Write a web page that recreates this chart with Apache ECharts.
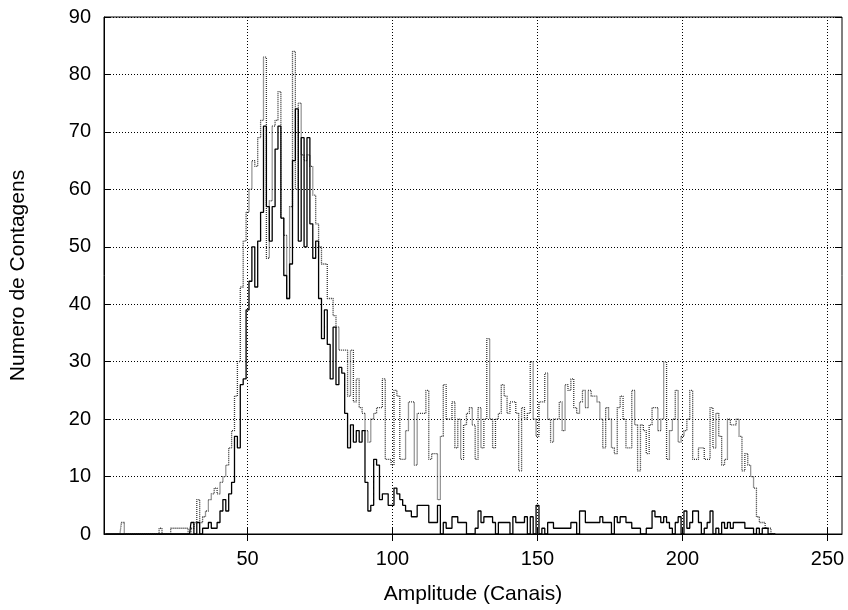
<!DOCTYPE html>
<html>
<head>
<meta charset="utf-8">
<title>Espectro de Amplitude</title>
<script src="https://cdn.jsdelivr.net/npm/echarts@6/dist/echarts.min.js"></script>
<style>
  html, body { margin: 0; padding: 0; background: #ffffff; }
  #chart { width: 848px; height: 610px; }
</style>
</head>
<body>
<div id="chart"></div>
<script>
// Canal do primeiro valor de cada espectro
const firstChannel = 1;

// Contagens por canal - espectro em linha cheia
const solidCounts = [
  0, 0, 0, 0, 0, 0, 0, 0, 0, 0,
  0, 0, 0, 0, 0, 0, 0, 0, 0, 0,
  0, 0, 0, 0, 0, 0, 0, 0, 0, 0,
  2, 0, 2, 0, 1, 1, 2, 1, 1, 2,
  4, 6, 4, 7, 9, 17, 15, 26, 27, 39,
  44, 50, 43, 51, 56, 71, 57, 51, 57, 67,
  71, 55, 45, 41, 47, 65, 74, 51, 69, 50,
  69, 54, 48, 51, 41, 34, 39, 33, 27, 36,
  26, 29, 28, 21, 15, 19, 16, 18, 16, 18,
  9, 4, 5, 13, 12, 6, 7, 7, 5, 5,
  8, 7, 6, 5, 4, 4, 3, 3, 5, 5,
  5, 5, 2, 2, 2, 5, 0, 2, 1, 1,
  3, 3, 2, 2, 2, 0, 0, 0, 1, 4,
  2, 3, 3, 3, 2, 0, 2, 2, 2, 2,
  0, 3, 2, 2, 2, 3, 0, 3, 0, 5,
  0, 1, 0, 2, 2, 1, 1, 1, 1, 1,
  1, 2, 2, 0, 4, 4, 2, 2, 2, 2,
  2, 3, 2, 2, 2, 0, 3, 2, 3, 3,
  2, 2, 1, 1, 1, 0, 0, 1, 1, 4,
  3, 3, 2, 3, 2, 1, 0, 2, 3, 0,
  4, 1, 2, 4, 4, 2, 0, 1, 2, 4,
  0, 1, 0, 2, 1, 2, 1, 2, 2, 2,
  2, 1, 1, 1, 0, 1, 0, 1, 1, 0,
  0, 0
];

// Contagens por canal - espectro em linha pontilhada
const dottedCounts = [
  0, 0, 0, 0, 0, 0, 2, 0, 0, 0,
  0, 0, 0, 0, 0, 0, 0, 0, 0, 1,
  0, 0, 0, 1, 1, 1, 1, 1, 1, 0,
  1, 2, 6, 2, 3, 4, 6, 7, 8, 7,
  9, 10, 12, 15, 18, 24, 30, 43, 51, 56,
  60, 65, 64, 69, 72, 83, 48, 58, 71, 72,
  77, 55, 52, 41, 57, 84, 60, 75, 66, 65,
  66, 64, 59, 54, 50, 47, 47, 41, 41, 38,
  36, 32, 32, 32, 24, 32, 23, 27, 22, 21,
  18, 16, 20, 21, 22, 22, 27, 13, 13, 12,
  25, 24, 13, 13, 18, 23, 23, 12, 21, 21,
  21, 25, 13, 14, 14, 6, 17, 26, 20, 20,
  23, 15, 20, 13, 19, 21, 22, 19, 13, 22,
  15, 20, 34, 20, 15, 20, 21, 26, 24, 21,
  23, 23, 21, 11, 22, 20, 21, 30, 20, 17,
  23, 23, 28, 20, 16, 20, 20, 23, 18, 26,
  25, 27, 22, 21, 23, 25, 22, 25, 24, 24,
  23, 20, 15, 22, 20, 15, 14, 22, 24, 20,
  15, 15, 25, 19, 11, 19, 18, 14, 19, 22,
  22, 18, 20, 30, 13, 18, 20, 25, 16, 17,
  18, 20, 25, 13, 13, 15, 15, 13, 13, 22,
  15, 21, 17, 12, 13, 20, 19, 19, 20, 17,
  11, 14, 12, 10, 8, 3, 2, 2, 1, 1,
  0, 0
];

// Marcas e limites dos eixos
const xTickValues = [50, 100, 150, 200, 250];
const xRange = [0.5, 255];
const yRange = [0, 90];
const yStep = 10;

const xTitle = 'Amplitude (Canais)';
const yTitle = 'Numero de Contagens';

const fontFamily = "'Liberation Sans', Arial, Helvetica, sans-serif";
const toPoints = (values) => values.map((v, i) => [firstChannel + i, v]);

const chart = echarts.init(document.getElementById('chart'), null, { renderer: 'canvas' });

const gridDots = { color: '#000000', type: [1, 2], width: 1 };
const tickStyle = { color: '#000000', width: 1 };

chart.setOption({
  animation: false,
  backgroundColor: '#ffffff',
  grid: {
    left: 102, right: 6, top: 17, bottom: 69,
    show: true, borderColor: '#000000', borderWidth: 1, backgroundColor: 'transparent'
  },
  xAxis: [
    {
      type: 'value', min: xRange[0], max: xRange[1], position: 'bottom',
      name: xTitle, nameLocation: 'middle', nameGap: 50,
      nameTextStyle: { fontFamily, fontSize: 21, color: '#000000' },
      axisLine: { show: true, onZero: false, lineStyle: { color: '#000000', width: 1 } },
      axisTick: { show: true, inside: true, length: 7, customValues: xTickValues, lineStyle: tickStyle },
      axisLabel: { show: true, customValues: xTickValues, margin: 15,
                   fontFamily, fontSize: 20, color: '#000000' },
      splitLine: { show: true, lineStyle: gridDots }
    },
    {
      type: 'value', min: xRange[0], max: xRange[1], position: 'top',
      axisLine: { show: false },
      axisTick: { show: true, inside: true, length: 7, customValues: xTickValues, lineStyle: tickStyle },
      axisLabel: { show: false },
      splitLine: { show: false }
    }
  ],
  yAxis: [
    {
      type: 'value', min: yRange[0], max: yRange[1], interval: yStep, position: 'left',
      name: yTitle, nameLocation: 'middle', nameGap: 75, nameRotate: 90,
      nameTextStyle: { fontFamily, fontSize: 21, color: '#000000' },
      axisLine: { show: true, onZero: false, lineStyle: { color: '#000000', width: 1 } },
      axisTick: { show: true, inside: true, length: 7, lineStyle: tickStyle },
      axisLabel: { show: true, margin: 13, fontFamily, fontSize: 20, color: '#000000',
                   padding: [4, 0, 0, 0] },
      splitLine: { show: true, lineStyle: gridDots }
    },
    {
      type: 'value', min: yRange[0], max: yRange[1], interval: yStep, position: 'right',
      axisLine: { show: false },
      axisTick: { show: true, inside: true, length: 7, lineStyle: tickStyle },
      axisLabel: { show: false },
      splitLine: { show: false }
    }
  ],
  series: [
    {
      name: 'pontilhado', type: 'line', step: 'middle',
      xAxisIndex: 0, yAxisIndex: 0,
      data: toPoints(dottedCounts),
      showSymbol: false, symbol: 'none', silent: true, clip: true,
      lineStyle: { color: '#333333', width: 1.3, type: [1, 1] },
      z: 3
    },
    {
      name: 'cheio', type: 'line', step: 'middle',
      xAxisIndex: 0, yAxisIndex: 0,
      data: toPoints(solidCounts),
      showSymbol: false, symbol: 'none', silent: true, clip: true,
      lineStyle: { color: '#000000', width: 1.3, type: 'solid' },
      z: 4
    }
  ]
});
</script>
</body>
</html>
